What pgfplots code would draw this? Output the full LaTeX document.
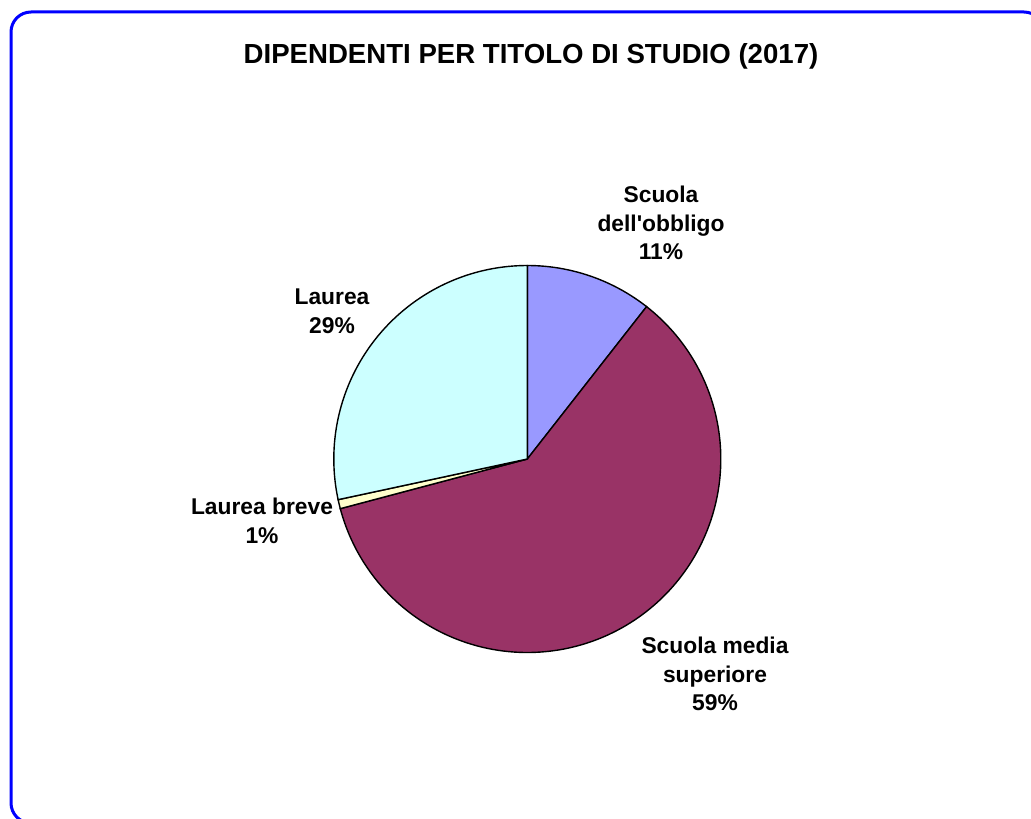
\documentclass[border=0pt]{standalone}
\usepackage{fontspec}
\setmainfont{Liberation Sans}
\usepackage{pgfplots}
\usepackage{pgfplotstable}
\pgfplotsset{compat=1.18}
\definecolor{cObb}{HTML}{9999FF}
\definecolor{cSup}{HTML}{993366}
\definecolor{cBre}{HTML}{FFFFCC}
\definecolor{cLau}{HTML}{CCFFFF}
\pgfplotstableread{
label pct
obbligo 10.57
superiore 60.30
breve 0.76
laurea 28.37
}\piedata
\pgfplotstablegetelem{0}{pct}\of\piedata \let\pA\pgfplotsretval
\pgfplotstablegetelem{1}{pct}\of\piedata \let\pB\pgfplotsretval
\pgfplotstablegetelem{2}{pct}\of\piedata \let\pC\pgfplotsretval
\pgfplotstablegetelem{3}{pct}\of\piedata \let\pD\pgfplotsretval
\pgfmathsetmacro\aA{90}
\pgfmathsetmacro\aB{\aA-3.6*\pA}
\pgfmathsetmacro\aC{\aB-3.6*\pB}
\pgfmathsetmacro\aD{\aC-3.6*\pC}
\pgfmathsetmacro\aE{\aD-3.6*\pD}
\newcommand\cx{527.3}
\newcommand\cy{459}
\newcommand\rr{193.5}
\begin{document}
\begin{tikzpicture}
\begin{axis}[at={(0,0)}, anchor=south west, scale only axis,
  width=515.5pt, height=409pt,
  xmin=0, xmax=1031, ymin=0, ymax=818, y dir=reverse,
  hide axis, clip=false]
\addplot[fill=cObb, draw=black, line width=0.7pt, domain=\aB:\aA, samples=60, variable=\t]
  ({\cx+\rr*cos(\t)},{\cy-\rr*sin(\t)}) -- (axis cs:\cx,\cy) -- cycle;
\addplot[fill=cSup, draw=black, line width=0.7pt, domain=\aC:\aB, samples=200, variable=\t]
  ({\cx+\rr*cos(\t)},{\cy-\rr*sin(\t)}) -- (axis cs:\cx,\cy) -- cycle;
\addplot[fill=cBre, draw=black, line width=0.7pt, domain=\aD:\aC, samples=10, variable=\t]
  ({\cx+\rr*cos(\t)},{\cy-\rr*sin(\t)}) -- (axis cs:\cx,\cy) -- cycle;
\addplot[fill=cLau, draw=black, line width=0.7pt, domain=\aE:\aD, samples=120, variable=\t]
  ({\cx+\rr*cos(\t)},{\cy-\rr*sin(\t)}) -- (axis cs:\cx,\cy) -- cycle;
\node[font=\bfseries\fontsize{13.8}{16}\selectfont] at (axis cs:531,56) {DIPENDENTI PER TITOLO DI STUDIO (2017)};
\node[align=center, font=\bfseries\fontsize{11.4}{14.3}\selectfont] at (axis cs:661,223) {Scuola\\dell\textquotesingle obbligo\\11\%};
\node[align=center, font=\bfseries\fontsize{11.4}{14.3}\selectfont] at (axis cs:715,674) {Scuola media\\superiore\\59\%};
\node[align=center, font=\bfseries\fontsize{11.4}{14.3}\selectfont] at (axis cs:332,311) {Laurea\\29\%};
\node[align=center, font=\bfseries\fontsize{11.4}{14.3}\selectfont] at (axis cs:262,521) {Laurea breve\\1\%};
\draw[color={rgb,255:red,0;green,0;blue,255}, line width=1.5pt, rounded corners=10pt] (axis cs:11,12) rectangle (axis cs:1044,823);
\end{axis}
\pgfresetboundingbox
\useasboundingbox (0,0) rectangle (515.5pt,409pt);
\end{tikzpicture}
\end{document}
